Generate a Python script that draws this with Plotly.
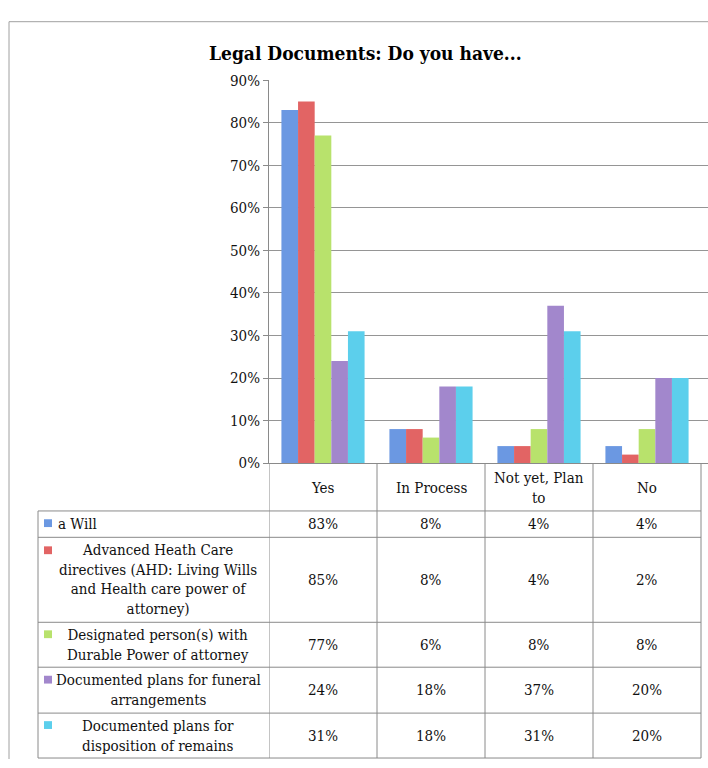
import plotly.graph_objects as go

# ---------------- data ----------------
categories = ["Yes", "In Process", "Not yet, Plan to", "No"]
category_labels = ["Yes", "In Process", "Not yet, Plan<br>to", "No"]

series_names = [
    "a Will",
    "Advanced Heath Care directives (AHD: Living Wills and Health care power of attorney)",
    "Designated person(s) with Durable Power of attorney",
    "Documented plans for funeral arrangements",
    "Documented plans for disposition of remains",
]
series_labels = [
    "a Will",
    "Advanced Heath Care<br>directives (AHD: Living Wills<br>and Health care power of<br>attorney)",
    "Designated person(s) with<br>Durable Power of attorney",
    "Documented plans for funeral<br>arrangements",
    "Documented plans for<br>disposition of remains",
]
a_will = [83, 8, 4, 4]
ahd = [85, 8, 4, 2]
designated = [77, 6, 8, 8]
funeral = [24, 18, 37, 20]
remains = [31, 18, 31, 20]
series_values = [a_will, ahd, designated, funeral, remains]

y_ticks = [0, 10, 20, 30, 40, 50, 60, 70, 80, 90]
y_tick_labels = [f"{v}%" for v in y_ticks]

title_text = "Legal Documents: Do you have..."

# ---------------- style ----------------
colors = ["#6b98e2", "#e26464", "#b8e26c", "#a287cc", "#5ccfec"]
W, H = 708, 768
FONT = "DejaVu Serif Condensed"
GRID = "#959595"
LINE = "#8a8a8a"


def px_x(x):
    return x / W


def px_y(y):
    return 1 - y / H


axis_left = 269
cat_w = 108
y0_px, y90_px = 465, 73
table_left = 38
row_edges = [465, 514, 541, 628, 674, 721, 767]

fig = go.Figure()
for name, vals, col in zip(series_names, series_values, colors):
    fig.add_trace(go.Bar(
        x=categories, y=vals, name=name,
        marker=dict(color=col, line=dict(width=0)),
        showlegend=False,
    ))

x_max = -0.5 + (W - axis_left) / cat_w

fig.update_layout(
    width=W, height=H,
    margin=dict(l=0, r=0, t=0, b=0),
    paper_bgcolor="white", plot_bgcolor="white",
    barmode="group", bargap=0.23, bargroupgap=0,
    font=dict(family=FONT, size=15, color="#111"),
    xaxis=dict(
        domain=[px_x(axis_left), 1.0],
        type="category", range=[-0.5, x_max],
        showticklabels=False, ticks="",
        showline=True, linecolor=LINE, linewidth=1,
        showgrid=False, zeroline=False, fixedrange=True,
    ),
    yaxis=dict(
        domain=[px_y(y0_px), px_y(y90_px)],
        range=[0, 90], tickvals=y_ticks, ticktext=y_tick_labels,
        ticks="outside", ticklen=5, tickcolor=LINE,
        showline=True, linecolor=LINE, linewidth=1,
        showgrid=True, gridcolor=GRID, gridwidth=1,
        zeroline=False, fixedrange=True,
        tickfont=dict(family=FONT, size=15, color="#111"),
    ),
)

shapes = []
ann = []

# outer chart border
shapes.append(dict(type="line", xref="paper", yref="paper",
                   x0=px_x(9), x1=1.0, y0=px_y(13), y1=px_y(13),
                   line=dict(color="#a0a0a0", width=1)))
shapes.append(dict(type="line", xref="paper", yref="paper",
                   x0=px_x(9), x1=px_x(9), y0=px_y(13), y1=0,
                   line=dict(color="#a0a0a0", width=1)))

# title
ann.append(dict(text=f"<b>{title_text}</b>", xref="paper", yref="paper",
                x=px_x(366), y=px_y(45), xanchor="center", yanchor="middle",
                showarrow=False, font=dict(family=FONT, size=19, color="#000")))

# table grid: vertical lines at category boundaries
n = len(categories)
for i in range(n + 1):
    shapes.append(dict(type="line", xref="x", yref="paper",
                       x0=i - 0.5, x1=i - 0.5,
                       y0=px_y(row_edges[0]), y1=px_y(row_edges[-1]),
                       line=dict(color=LINE, width=1)))
shapes.append(dict(type="line", xref="paper", yref="paper",
                   x0=px_x(table_left), x1=px_x(table_left),
                   y0=px_y(row_edges[1]), y1=px_y(row_edges[-1]),
                   line=dict(color=LINE, width=1)))
x_table_right = px_x(axis_left + n * cat_w)
for r in row_edges[1:]:
    shapes.append(dict(type="line", xref="paper", yref="paper",
                       x0=px_x(table_left), x1=x_table_right,
                       y0=px_y(r), y1=px_y(r),
                       line=dict(color=LINE, width=1)))

# header row: category labels
hdr_c = (row_edges[0] + row_edges[1]) / 2
for i, lab in enumerate(category_labels):
    ann.append(dict(text=lab, xref="x", yref="paper", x=i, y=px_y(hdr_c + 1),
                    xanchor="center", yanchor="middle", showarrow=False,
                    align="center"))

# data rows
line_h = 19.5
for k, (lab, vals, col) in enumerate(zip(series_labels, series_values, colors)):
    top, bot = row_edges[k + 1], row_edges[k + 2]
    c = (top + bot) / 2
    nlines = lab.count("<br>") + 1
    first_c = c - (nlines - 1) * line_h / 2
    # legend key
    shapes.append(dict(type="rect", xref="paper", yref="paper",
                       x0=px_x(44), x1=px_x(52),
                       y0=px_y(first_c - 5), y1=px_y(first_c + 3),
                       fillcolor=col, line=dict(width=0)))
    if k == 0:
        ann.append(dict(text=lab, xref="paper", yref="paper", x=px_x(56), y=px_y(c),
                        xanchor="left", yanchor="middle", showarrow=False))
    else:
        ann.append(dict(text=lab, xref="paper", yref="paper", x=px_x(158), y=px_y(c),
                        xanchor="center", yanchor="middle", showarrow=False,
                        align="center"))
    for i, v in enumerate(vals):
        ann.append(dict(text=f"{v}%", xref="x", yref="paper", x=i, y=px_y(c),
                        xanchor="center", yanchor="middle", showarrow=False))

fig.update_layout(shapes=shapes, annotations=ann)
fig.write_html(
    "out.html",
    config={"displayModeBar": False, "staticPlot": True},
    post_script=(
        "document.documentElement.style.margin='0';"
        "document.body.style.margin='0';"
        "document.body.style.overflow='hidden';"
        "var gd=document.getElementById('{plot_id}');"
        "gd.style.position='fixed';gd.style.top='0px';gd.style.left='0px';"
    ),
)
